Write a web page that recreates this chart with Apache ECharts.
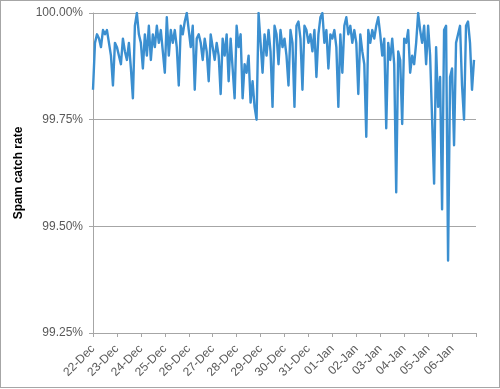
<!DOCTYPE html>
<html>
<head>
<meta charset="utf-8">
<script src="https://cdn.jsdelivr.net/npm/echarts@6/dist/echarts.min.js"></script>
<style>
html,body{margin:0;padding:0;background:#fff;}
#frame{position:absolute;left:0;top:0;width:498px;height:386px;border:1px solid #a6a6a6;}
#chart{position:absolute;left:0;top:0;width:500px;height:389px;}
</style>
</head>
<body>
<div id="frame"></div>
<div id="chart"></div>
<script>
// Day labels (one tick per day)
const dayLabels = ['22-Dec','23-Dec','24-Dec','25-Dec','26-Dec','27-Dec','28-Dec','29-Dec',
  '30-Dec','31-Dec','01-Jan','02-Jan','03-Jan','04-Jan','05-Jan','06-Jan'];
const hoursPerPoint = 2;
const yTicks = [99.25, 99.50, 99.75, 100.00];
// Spam catch rate (%) every 2 hours
const catchRate = [
  99.82, 99.93, 99.95, 99.94, 99.92, 99.96, 99.95, 99.96, 99.93, 99.90, 99.83, 99.93,
  99.92, 99.90, 99.88, 99.94, 99.91, 99.89, 99.93, 99.87, 99.80, 99.97, 100.00, 99.95,
  99.93, 99.87, 99.95, 99.90, 99.97, 99.89, 99.95, 99.92, 99.97, 99.93, 99.96, 99.91,
  99.86, 99.99, 99.90, 99.96, 99.93, 99.96, 99.92, 99.83, 99.97, 99.95, 99.98, 100.00,
  99.96, 99.92, 99.97, 99.82, 99.94, 99.95, 99.93, 99.89, 99.94, 99.91, 99.84, 99.95,
  99.92, 99.89, 99.93, 99.90, 99.81, 99.94, 99.90, 99.95, 99.84, 99.94, 99.87, 99.80,
  99.97, 99.92, 99.95, 99.80, 99.88, 99.86, 99.90, 99.79, 99.84, 99.78, 99.75, 100.00,
  99.93, 99.86, 99.95, 99.90, 99.96, 99.91, 99.78, 99.97, 99.95, 99.88, 99.96, 99.92,
  99.94, 99.90, 99.83, 99.96, 99.93, 99.78, 99.97, 99.98, 99.94, 99.82, 99.97, 99.96,
  99.93, 99.95, 99.91, 99.96, 99.85, 99.95, 99.99, 100.00, 99.93, 99.96, 99.87, 99.95,
  99.94, 99.96, 99.92, 99.78, 99.95, 99.86, 99.97, 99.99, 99.95, 99.97, 99.93, 99.96,
  99.93, 99.81, 99.95, 99.91, 99.88, 99.71, 99.96, 99.93, 99.96, 99.94, 99.97, 99.99,
  99.95, 99.90, 99.94, 99.73, 99.93, 99.89, 99.94, 99.88, 99.58, 99.91, 99.89, 99.74,
  99.94, 99.93, 99.96, 99.86, 99.90, 99.88, 99.93, 100.00, 99.96, 99.93, 99.97, 99.88,
  99.97, 99.90, 99.75, 99.60, 99.92, 99.78, 99.85, 99.54, 99.96, 99.97, 99.42, 99.85,
  99.87, 99.69, 99.93, 99.95, 99.97, 99.83, 99.75, 99.97, 99.98, 99.93, 99.82, 99.89
];

const seriesData = catchRate.map((v, i) => [i * hoursPerPoint, v]);
const chart = echarts.init(document.getElementById('chart'), null, {renderer: 'canvas'});
const labelFont = {fontFamily: 'Liberation Sans', fontSize: 12, color: '#595959'};
chart.setOption({
  animation: false,
  grid: {left: 93, right: 24, top: 13, bottom: 56, containLabel: false},
  xAxis: {
    type: 'value',
    min: 0,
    max: dayLabels.length * 24,
    interval: 24,
    axisLine: {show: true, onZero: false, lineStyle: {color: '#a6a6a6', width: 1}},
    axisTick: {show: true, length: 4, lineStyle: {color: '#a6a6a6'}},
    splitLine: {show: false},
    axisLabel: Object.assign({}, labelFont, {
      fontSize: 12,
      rotate: 45,
      margin: 14,
      showMaxLabel: true,
      formatter: v => dayLabels[Math.round(v / 24)] || ''
    })
  },
  yAxis: {
    type: 'value',
    min: yTicks[0],
    max: yTicks[yTicks.length - 1],
    interval: 0.25,
    name: 'Spam catch rate',
    nameLocation: 'middle',
    nameGap: 66,
    nameTextStyle: {fontFamily: 'Liberation Sans', fontSize: 12, fontWeight: 'bold', color: '#000'},
    axisLine: {show: true, lineStyle: {color: '#a6a6a6', width: 1}},
    axisTick: {show: true, length: 4, lineStyle: {color: '#a6a6a6'}},
    splitLine: {show: true, lineStyle: {color: '#a6a6a6', width: 1}},
    axisLabel: Object.assign({}, labelFont, {
      margin: 10,
      formatter: v => v.toFixed(2) + '%'
    })
  },
  series: [{
    type: 'line',
    data: seriesData,
    showSymbol: false,
    symbol: 'none',
    lineStyle: {color: '#3b8fd0', width: 2.4, join: 'round'},
    z: 3
  }]
});
</script>
</body>
</html>
